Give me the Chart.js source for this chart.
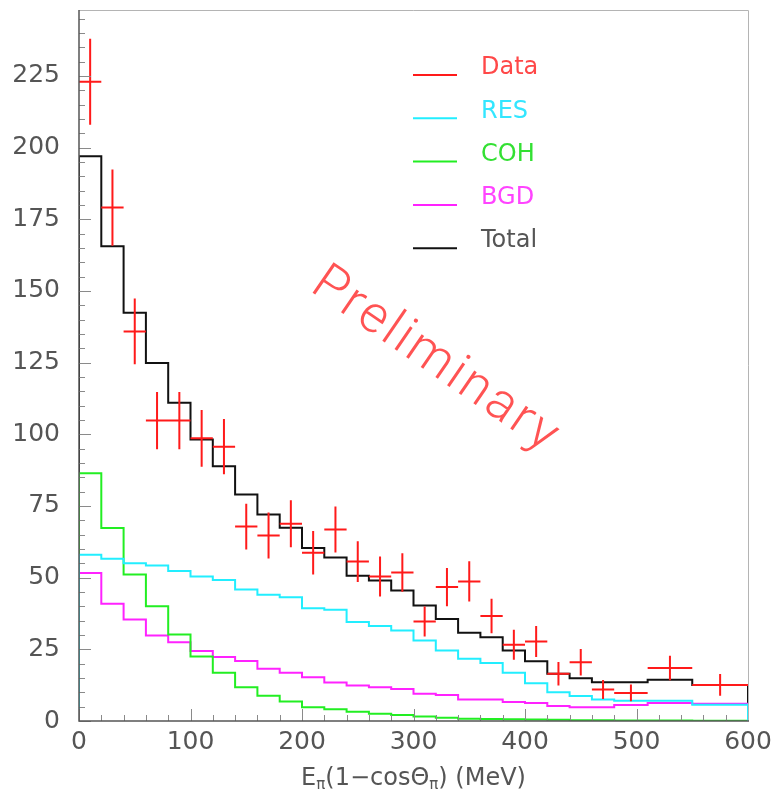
<!DOCTYPE html>
<html>
<head>
<meta charset="utf-8">
<script src="https://cdn.jsdelivr.net/npm/chart.js@4.4.1/dist/chart.umd.min.js"></script>
<style>
    html, body { margin: 0; padding: 0; background: #fff; }
    #wrap { width: 773px; height: 801px; }
</style>
</head>
<body>
<div id="wrap"><canvas id="chart" width="773" height="801"></canvas></div>
<script>
// bin edges in MeV (last three bins are wider)
const binEdges = [0, 20, 40, 60, 80, 100, 120, 140, 160, 180, 200, 220, 240, 260, 280, 300,
    320, 340, 360, 380, 400, 420, 440, 460, 480, 510, 550, 600];

const totalMC = [197, 165.6, 142.4, 124.9, 111, 98.2, 88.9, 79, 72, 67.4, 60.3, 57, 50.7, 49,
    45.5, 40.3, 35.6, 30.8, 29.2, 24.6, 20.8, 16.5, 14.9, 13.5, 13.5, 14.4, 12.6];
const resMC = [58, 56.6, 55, 54.2, 52.3, 50.4, 49.2, 45.9, 44, 43.2, 39.3, 38.8, 34.5, 33.1,
    31.6, 28.1, 24.6, 21.7, 20.2, 16.8, 13.2, 10, 8.7, 7.5, 7.1, 7.1, 5.7];
const cohMC = [86.4, 67.3, 51.1, 40, 30.2, 22.5, 16.8, 11.8, 8.8, 6.8, 4.8, 4.1, 3.2, 2.5,
    2.1, 1.6, 1.1, 0.8, 0.7, 0.6, 0.5, 0.4, 0.3, 0.3, 0.2, 0.2, 0.1];
const bgdMC = [51.6, 40.9, 35.4, 29.8, 27.5, 24.4, 22.3, 20.9, 18.2, 16.8, 15.3, 13.4, 12.4,
    11.8, 11.2, 9.5, 9.1, 7.5, 7.5, 6.6, 6.3, 5.2, 4.8, 4.8, 5.6, 6.3, 6.0];

const dataCounts = [223, 179.1, 135.9, 104.8, 104.8, 98.6, 95.7, 67.8, 64.7, 68.8, 58.7, 66.8,
    55.6, 50.4, 51.8, 34.7, 46.7, 48.7, 36.6, 26.6, 27.7, 16.5, 20.5, 11, 9.8, 18.5, 12.6];
const dataErrors = [15, 13.3, 11.5, 10, 10, 9.9, 9.6, 8, 8, 8.2, 7.6, 8, 7.1, 7, 6.7, 5.2,
    6.7, 7, 6, 5.2, 5.4, 4.1, 4.6, 3.3, 2.9, 4.3, 3.8];

const xTickLabels = [0, 100, 200, 300, 400, 500, 600];
const yTickLabels = [0, 25, 50, 75, 100, 125, 150, 175, 200, 225];

const X_MIN = 0, X_MAX = 600, Y_MAX = 248;
const FONT = '"DejaVu Sans", sans-serif';

// histogram -> step line points, closed down to zero at both ends like ROOT draws it
function histPoints (values) {
    const pts = [{ x: binEdges[0], y: 0 }];
    values.forEach((v, i) => pts.push({ x: binEdges[i], y: v }));
    const last = binEdges[binEdges.length - 1];
    pts.push({ x: last, y: values[values.length - 1] });
    pts.push({ x: last, y: 0 });
    return pts;
};

// data crosses: horizontal bar over the bin, vertical bar for the error, gaps in between
function crossPoints () {
    const pts = [];
    dataCounts.forEach((v, i) => {
        const lo = binEdges[i], hi = binEdges[i + 1], c = (lo + hi) / 2;
        pts.push({ x: lo, y: v }, { x: hi, y: v }, { x: c, y: null });
        pts.push({ x: c, y: v - dataErrors[i] }, { x: c, y: v + dataErrors[i] }, { x: c, y: null });
    });
    return pts;
};

const histStyle = { pointRadius: 0, borderWidth: 2, stepped: 'before', fill: false, tension: 0 };

function noPadding (s) {
    s.paddingTop = 0; s.paddingBottom = 0; s.paddingLeft = 0; s.paddingRight = 0;
};

const frameTicks = {
    id: 'frameTicks',
    afterDatasetsDraw (chart) {
        const { ctx, chartArea: a, scales: { x, y } } = chart;
        ctx.save();
        ctx.lineWidth = 1;
        ctx.strokeStyle = '#8a8a8a';
        ctx.beginPath();
        for (let v = 0; v <= Y_MAX; v += 5) {
            const py = Math.round(y.getPixelForValue(v)) + 0.5;
            const len = v % 25 === 0 ? 12 : 6;
            ctx.moveTo(a.left, py); ctx.lineTo(a.left + len, py);
        }
        for (let v = X_MIN; v <= X_MAX; v += 20) {
            const px = Math.round(x.getPixelForValue(v)) + 0.5;
            const len = v % 100 === 0 ? 12 : 6;
            ctx.moveTo(px, a.bottom); ctx.lineTo(px, a.bottom - len);
        }
        ctx.stroke();
        // frame: light top/right, darker axes
        ctx.strokeStyle = '#b4b4b4';
        ctx.beginPath();
        ctx.moveTo(a.left, a.top + 0.5); ctx.lineTo(a.right + 0.5, a.top + 0.5); ctx.lineTo(a.right + 0.5, a.bottom);
        ctx.stroke();
        ctx.strokeStyle = '#555';
        ctx.lineWidth = 1.5;
        ctx.beginPath();
        ctx.moveTo(a.left, a.top); ctx.lineTo(a.left, a.bottom); ctx.lineTo(a.right + 1, a.bottom);
        ctx.stroke();
        ctx.restore();
    }
};

const legendAndText = {
    id: 'legendAndText',
    afterDraw (chart) {
        const { ctx, scales: { x } } = chart;
        ctx.save();
        // legend
        ctx.font = `24px ${FONT}`;
        ctx.textBaseline = 'middle';
        ctx.textAlign = 'left';
        chart.data.datasets.forEach((ds, i) => {
            const ly = 75 + i * 43.3;
            ctx.strokeStyle = ds.borderColor;
            ctx.lineWidth = 2;
            ctx.beginPath();
            ctx.moveTo(413, ly); ctx.lineTo(457, ly);
            ctx.stroke();
            ctx.fillStyle = ds.textColor;
            ctx.fillText(ds.label, 481, ly - 7);
        });

        // x axis title with subscripts
        const parts = [['E', 0], ['\u03c0', 1], ['(1\u2212cos\u0398', 0], ['\u03c0', 1], [') (MeV)', 0]];
        const big = `24px ${FONT}`, small = `15px ${FONT}`;
        let width = 0;
        parts.forEach(([t, sub]) => { ctx.font = sub ? small : big; width += ctx.measureText(t).width; });
        let tx = (x.getPixelForValue(X_MIN) + x.getPixelForValue(X_MAX)) / 2 - width / 2;
        ctx.fillStyle = '#555';
        ctx.textBaseline = 'alphabetic';
        parts.forEach(([t, sub]) => {
            ctx.font = sub ? small : big;
            ctx.fillText(t, tx, sub ? 789 : 785);
            tx += ctx.measureText(t).width;
        });

        // watermark
        ctx.translate(428, 372);
        ctx.rotate(34.5 * Math.PI / 180);
        ctx.font = '300 52px Roboto, "DejaVu Sans", sans-serif';
        ctx.letterSpacing = '3px';
        ctx.textAlign = 'center';
        ctx.fillStyle = 'rgba(255, 40, 40, 0.8)';
        ctx.fillText('Preliminary', 0, 0);
        ctx.restore();
    }
};

new Chart(document.getElementById('chart'), {
    type: 'line',
    data: {
        datasets: [
            { label: 'Data', data: crossPoints(), borderColor: '#ff1a1a', textColor: '#ff4848',
              pointRadius: 0, borderWidth: 2, spanGaps: false, tension: 0 },
            { label: 'RES', data: histPoints(resMC), borderColor: '#22eeff', textColor: '#33e6ff', ...histStyle },
            { label: 'COH', data: histPoints(cohMC), borderColor: '#22ee22', textColor: '#33e033', ...histStyle },
            { label: 'BGD', data: histPoints(bgdMC), borderColor: '#ff22ff', textColor: '#ff44ff', ...histStyle },
            { label: 'Total', data: histPoints(totalMC), borderColor: '#111', textColor: '#555', ...histStyle }
        ]
    },
    options: {
        responsive: false,
        animation: false,
        devicePixelRatio: 1,
        layout: { padding: { top: 10, right: 25, left: 0, bottom: 0 } },
        plugins: { legend: { display: false }, tooltip: { enabled: false } },
        scales: {
            x: {
                type: 'linear', min: X_MIN, max: X_MAX,
                afterFit: (s) => { s.height = 80; noPadding(s); },
                afterBuildTicks: (s) => { s.ticks = xTickLabels.map(v => ({ value: v })); },
                grid: { display: false, drawTicks: false },
                border: { display: false },
                ticks: { color: '#555', font: { family: FONT, size: 25 }, padding: 6, maxRotation: 0, autoSkip: false }
            },
            y: {
                type: 'linear', min: 0, max: Y_MAX,
                afterFit: (s) => { s.width = 79; noPadding(s); },
                afterBuildTicks: (s) => { s.ticks = yTickLabels.map(v => ({ value: v })); },
                grid: { display: false, drawTicks: false },
                border: { display: false },
                ticks: { color: '#555', font: { family: FONT, size: 25 }, padding: 19, autoSkip: false }
            }
        }
    },
    plugins: [frameTicks, legendAndText]
});
</script>
</body>
</html>
